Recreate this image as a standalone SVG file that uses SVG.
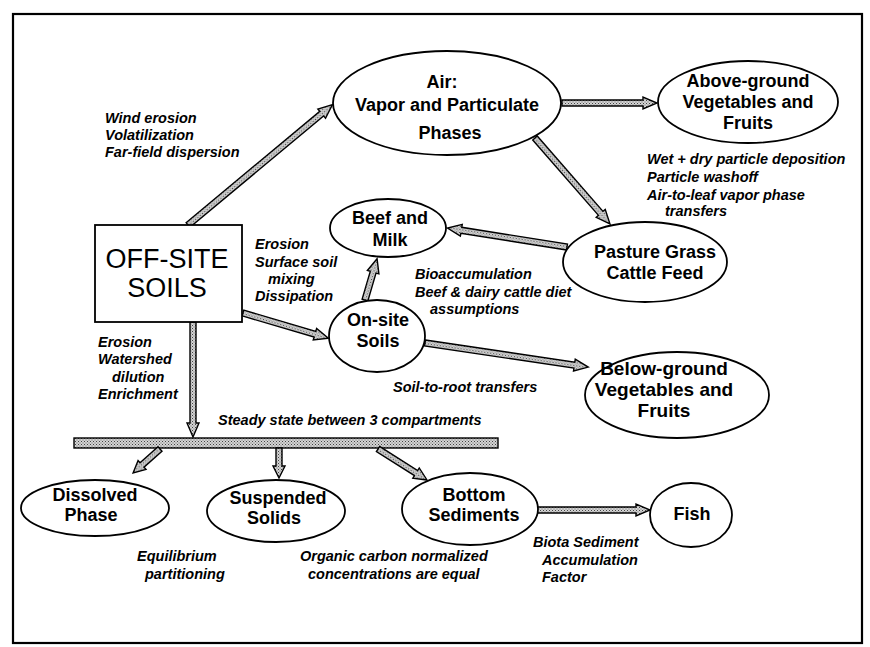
<svg xmlns="http://www.w3.org/2000/svg" width="870" height="647" viewBox="0 0 870 647">
<defs>
<pattern id="stip" width="3" height="3" patternUnits="userSpaceOnUse">
<rect width="3" height="3" fill="#d4d4d4"/>
<rect width="1" height="1" fill="#444"/>
<rect x="1.5" y="1.5" width="1" height="1" fill="#666"/>
</pattern>
</defs>
<style>
.node ellipse{fill:#fff;stroke:#000;stroke-width:1.8}
.nt{font-family:"Liberation Sans",Arial,sans-serif;font-weight:bold;font-size:18px;text-anchor:middle;fill:#000}
.lb{font-family:"Liberation Sans",Arial,sans-serif;font-weight:bold;font-style:italic;font-size:14.5px;fill:#000}
.arr{fill:url(#stip);stroke:#000;stroke-width:1.4;stroke-linejoin:miter}
</style>
<rect x="0" y="0" width="870" height="647" fill="#fff"/>
<rect x="13" y="14" width="849" height="629" fill="none" stroke="#000" stroke-width="2.2"/>

<g id="connectors">
<path class="arr" transform="translate(188,225) rotate(-39.8)" d="M0,-3 H174 V-6 L188,0 L174,6 V3 H0 Z"/>
<path class="arr" transform="translate(562,103)" d="M0,-3 H81 V-6 L95,0 L81,6 V3 H0 Z"/>
<path class="arr" transform="translate(535,138) rotate(48.9)" d="M0,-3 H100 V-6 L114,0 L100,6 V3 H0 Z"/>
<path class="arr" transform="translate(567,247) rotate(189)" d="M0,-3 H107 V-6 L121,0 L107,6 V3 H0 Z"/>
<path class="arr" transform="translate(365,300) rotate(-73.7)" d="M0,-3 H29 V-6 L43,0 L29,6 V3 H0 Z"/>
<path class="arr" transform="translate(243,313) rotate(16.4)" d="M0,-3 H75 V-6 L89,0 L75,6 V3 H0 Z"/>
<path class="arr" transform="translate(425,343) rotate(8.4)" d="M0,-3 H151 V-6 L165,0 L151,6 V3 H0 Z"/>
<path class="arr" transform="translate(193,322) rotate(90)" d="M0,-3 H101 V-6 L115,0 L101,6 V3 H0 Z"/>
<rect x="74" y="438" width="424" height="10" fill="url(#stip)" stroke="#000" stroke-width="1.4"/>
<path class="arr" transform="translate(160,449) rotate(138.4)" d="M0,-3 H24 V-6 L36,0 L24,6 V3 H0 Z"/>
<path class="arr" transform="translate(279,448) rotate(90)" d="M0,-3 H18 V-6 L30,0 L18,6 V3 H0 Z"/>
<path class="arr" transform="translate(378,449) rotate(32.3)" d="M0,-3 H45 V-6 L58,0 L45,6 V3 H0 Z"/>
<path class="arr" transform="translate(537,510)" d="M0,-3 H99 V-6 L113,0 L99,6 V3 H0 Z"/>
</g>

<g id="air" class="node">
<ellipse cx="447" cy="103" rx="114" ry="52"/>
<text class="nt" x="442" y="88">Air:</text>
<text class="nt" x="447" y="111">Vapor and Particulate</text>
<text class="nt" x="450" y="139">Phases</text>
</g>
<g id="above" class="node">
<ellipse cx="748" cy="102" rx="90" ry="41"/>
<text class="nt" x="748" y="87">Above-ground</text>
<text class="nt" x="748" y="108">Vegetables and</text>
<text class="nt" x="748" y="129">Fruits</text>
</g>
<g id="offsite">
<rect x="95" y="225" width="147" height="97" fill="#fff" stroke="#000" stroke-width="1.8"/>
<text x="167" y="268" font-family="Liberation Sans,Arial,sans-serif" font-size="27" text-anchor="middle">OFF-SITE</text>
<text x="167" y="297" font-family="Liberation Sans,Arial,sans-serif" font-size="27" text-anchor="middle">SOILS</text>
</g>
<g id="beef" class="node">
<ellipse cx="388" cy="228" rx="58" ry="29"/>
<text class="nt" x="390" y="224">Beef and</text>
<text class="nt" x="390" y="246">Milk</text>
</g>
<g id="pasture" class="node">
<ellipse cx="645" cy="262" rx="82" ry="40"/>
<text class="nt" x="655" y="258">Pasture Grass</text>
<text class="nt" x="655" y="279">Cattle Feed</text>
</g>
<g id="onsite" class="node">
<ellipse cx="377" cy="336" rx="48" ry="36"/>
<text class="nt" x="378" y="326">On-site</text>
<text class="nt" x="378" y="347">Soils</text>
</g>
<g id="below" class="node">
<ellipse cx="677" cy="395" rx="92" ry="43"/>
<text class="nt" x="664" y="375" style="font-size:19px">Below-ground</text>
<text class="nt" x="664" y="396" style="font-size:19px">Vegetables and</text>
<text class="nt" x="664" y="417" style="font-size:19px">Fruits</text>
</g>
<g id="dissolved" class="node">
<ellipse cx="95" cy="508" rx="74" ry="28"/>
<text class="nt" x="95" y="501">Dissolved</text>
<text class="nt" x="91" y="521">Phase</text>
</g>
<g id="suspended" class="node">
<ellipse cx="276" cy="511" rx="69" ry="31"/>
<text class="nt" x="278" y="504">Suspended</text>
<text class="nt" x="274" y="524">Solids</text>
</g>
<g id="bottom" class="node">
<ellipse cx="470" cy="509" rx="68" ry="36"/>
<text class="nt" x="474" y="501">Bottom</text>
<text class="nt" x="474" y="521">Sediments</text>
</g>
<g id="fish" class="node">
<ellipse cx="691" cy="515" rx="41" ry="32"/>
<text class="nt" x="692" y="520">Fish</text>
</g>

<g id="labels">
<text class="lb" x="105" y="123">Wind erosion</text>
<text class="lb" x="105" y="140">Volatilization</text>
<text class="lb" x="105" y="157">Far-field dispersion</text>
<text class="lb" x="647" y="164">Wet + dry particle deposition</text>
<text class="lb" x="647" y="182">Particle washoff</text>
<text class="lb" x="647" y="200">Air-to-leaf vapor phase</text>
<text class="lb" x="665" y="216">transfers</text>
<text class="lb" x="255" y="249">Erosion</text>
<text class="lb" x="255" y="267">Surface soil</text>
<text class="lb" x="268" y="284">mixing</text>
<text class="lb" x="255" y="301">Dissipation</text>
<text class="lb" x="415" y="279">Bioaccumulation</text>
<text class="lb" x="415" y="297">Beef &amp; dairy cattle diet</text>
<text class="lb" x="430" y="314">assumptions</text>
<text class="lb" x="393" y="392">Soil-to-root  transfers</text>
<text class="lb" x="98" y="347">Erosion</text>
<text class="lb" x="98" y="364">Watershed</text>
<text class="lb" x="112" y="382">dilution</text>
<text class="lb" x="98" y="399">Enrichment</text>
<text class="lb" x="218" y="425">Steady state between 3 compartments</text>
<text class="lb" x="137" y="561">Equilibrium</text>
<text class="lb" x="145" y="579">partitioning</text>
<text class="lb" x="300" y="561">Organic carbon normalized</text>
<text class="lb" x="308" y="579">concentrations are equal</text>
<text class="lb" x="533" y="547">Biota Sediment</text>
<text class="lb" x="542" y="565">Accumulation</text>
<text class="lb" x="542" y="582">Factor</text>
</g>
</svg>
